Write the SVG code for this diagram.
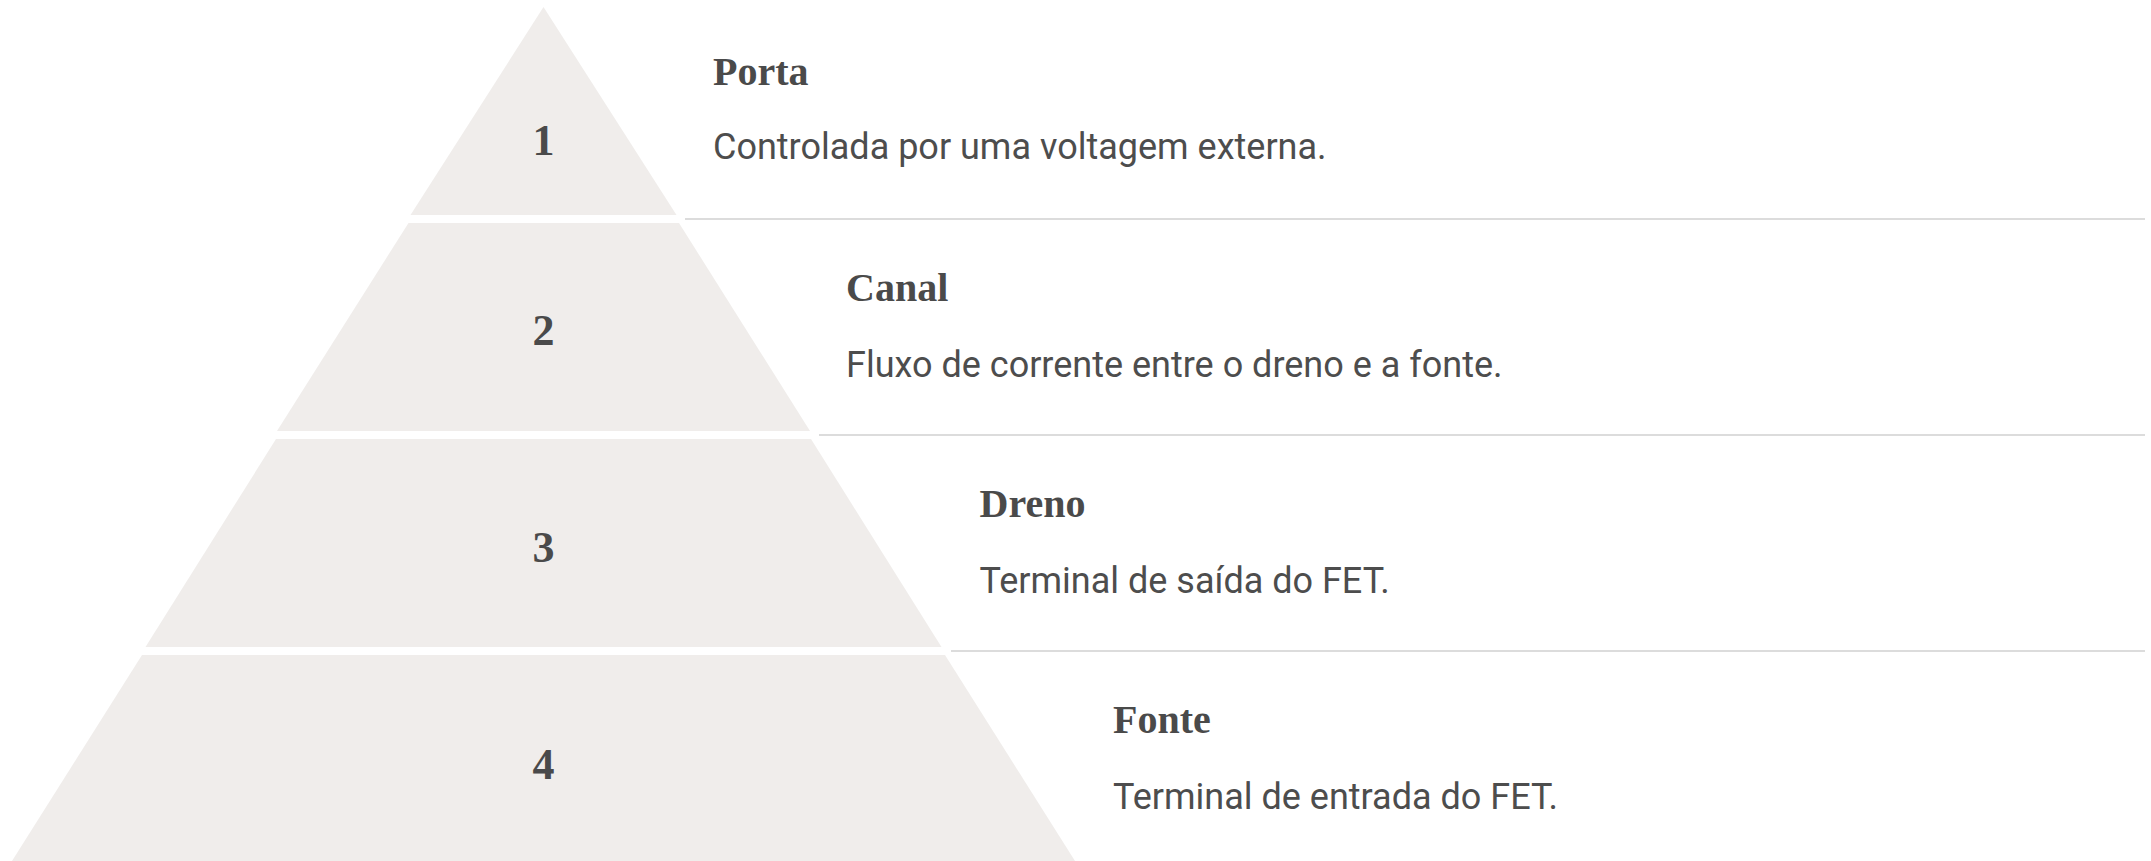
<svg xmlns="http://www.w3.org/2000/svg" width="2151" height="861" viewBox="0 0 2151 861">
<style>
.tier{fill:#f0edeb;stroke:none}
.num{font-family:"Liberation Serif","Times New Roman",serif;font-weight:bold;font-size:44px;fill:#4a4a4a;text-anchor:middle}
.title{font-family:"Liberation Serif","Times New Roman",serif;font-weight:bold;font-size:40px;fill:#4a4a4a}
.desc{font-family:Roboto,"Liberation Sans",sans-serif;font-size:36px;fill:#4d4d4d}
.sep{stroke:#dcdcdc;stroke-width:2;fill:none}
</style>
<rect width="2151" height="861" fill="#ffffff"/>
<g id="tier1">
<path class="tier" d="M543.5,7 L676.5,215 L410.5,215 Z"/>
<text class="num" x="543.5" y="155">1</text>
<text class="title" x="713" y="85">Porta</text>
<text class="desc" x="713" y="159">Controlada por uma voltagem externa.</text>
</g>
<g id="tier2">
<path class="tier" d="M408.5,223 L679,223 L810,431 L277,431 Z"/>
<text class="num" x="543.5" y="345">2</text>
<text class="title" x="846" y="301">Canal</text>
<text class="desc" x="846" y="377">Fluxo de corrente entre o dreno e a fonte.</text>
</g>
<g id="tier3">
<path class="tier" d="M276,439 L811,439 L941.5,647 L145.5,647 Z"/>
<text class="num" x="543.5" y="562">3</text>
<text class="title" x="979.5" y="517">Dreno</text>
<text class="desc" x="979.5" y="593">Terminal de saída do FET.</text>
</g>
<g id="tier4">
<path class="tier" d="M142,655 L945,655 L1075,861 L12,861 Z"/>
<text class="num" x="543.5" y="779">4</text>
<text class="title" x="1113" y="733">Fonte</text>
<text class="desc" x="1113" y="809">Terminal de entrada do FET.</text>
</g>
<g id="connectors">
<line class="sep" x1="685" y1="219" x2="2145" y2="219"/>
<line class="sep" x1="819" y1="435" x2="2145" y2="435"/>
<line class="sep" x1="951" y1="651" x2="2145" y2="651"/>
</g>
</svg>
